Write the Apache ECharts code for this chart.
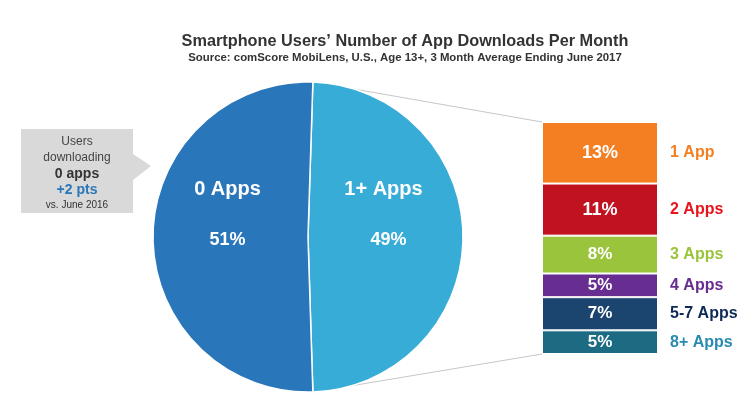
<!DOCTYPE html>
<html>
<head>
<meta charset="utf-8">
<script src="https://cdn.jsdelivr.net/npm/echarts@6/dist/echarts.min.js"></script>
<style>
  html, body { margin: 0; padding: 0; background: #fff; }
  #main { width: 746px; height: 399px; }
</style>
</head>
<body>
<div id="main"></div>
<script>
// pie: share of users by downloads
const pieNames = ["1+ Apps", "0 Apps"];
const pieValues = [49, 51];
const pieColors = ["#37acd6", "#2a76ba"];

// breakdown of the 1+ Apps slice
const appNames = ["1 App", "2 Apps", "3 Apps", "4 Apps", "5-7 Apps", "8+ Apps"];
const appValues = [13, 11, 8, 5, 7, 5];
const appColors = ["#f37f22", "#c1121f", "#99c43c", "#672d91", "#1b456e", "#1c6b83"];
const appLabelColors = ["#f37f22", "#e8141c", "#99c43c", "#672d91", "#0d2a55", "#2a8bb0"];

const FONT = "Liberation Sans, Arial, sans-serif";
const cx = 308, cy = 237, R = 155;
const gridLeft = 542, gridTop = 122, barW = 116, gridH = 232;

const chart = echarts.init(document.getElementById("main"));

const total = appValues.reduce((a, b) => a + b, 0);

const barSeries = appNames.map((name, i) => ({
  name: name,
  type: "bar",
  stack: "apps",
  barCategoryGap: 0,
  itemStyle: { color: appColors[i], borderColor: "#fff", borderWidth: 1 },
  data: [
    {
      value: appValues[i],
      label: {
        show: true,
        position: "inside",
        formatter: appValues[i] + "%",
        color: "#fff",
        fontFamily: FONT,
        fontWeight: "bold",
        fontSize: appValues[i] > 9 ? 18 : 17
      }
    },
    {
      value: appValues[i],
      itemStyle: { color: "transparent", borderWidth: 0 },
      label: {
        show: true,
        position: "insideLeft",
        distance: 12,
        formatter: name,
        color: appLabelColors[i],
        fontFamily: FONT,
        fontWeight: "bold",
        fontSize: 16
      }
    }
  ]
}));

const option = {
  animation: false,
  title: {
    text: "Smartphone Users\u2019 Number of App Downloads Per Month",
    subtext: "Source: comScore MobiLens, U.S., Age 13+, 3 Month Average Ending June 2017",
    left: 400,
    textAlign: "center",
    top: 29,
    itemGap: 2,
    textStyle: { fontFamily: FONT, fontSize: 16.3, fontWeight: "bold", color: "#333" },
    subtextStyle: { fontFamily: FONT, fontSize: 11.4, fontWeight: "bold", color: "#333" }
  },
  grid: { left: gridLeft, top: gridTop, width: barW * 2, height: gridH, outerBoundsMode: "none" },
  xAxis: { type: "category", data: ["bar", "names"], show: false },
  yAxis: { type: "value", min: 0, max: total, inverse: true, show: false },
  series: [
    {
      type: "pie",
      center: [cx, cy],
      radius: R,
      startAngle: 88.2,
      clockwise: true,
      silent: true,
      itemStyle: { borderColor: "#fff", borderWidth: 1.5 },
      label: {
        show: true,
        position: "inside",
        formatter: p => "{" + (p.dataIndex === 0 ? "m" : "n") + "|" + p.name + "}\n{v|" + p.value + "%}",
        rich: {
          n: { color: "#fff", fontFamily: FONT, fontWeight: "bold", fontSize: 20, lineHeight: 51 },
          m: { color: "#fff", fontFamily: FONT, fontWeight: "bold", fontSize: 20, lineHeight: 51, padding: [0, 10, 0, 0] },
          v: { color: "#fff", fontFamily: FONT, fontWeight: "bold", fontSize: 18, lineHeight: 51 }
        }
      },
      labelLayout: () => ({ dy: -22 }),
      data: pieNames.map((n, i) => ({ name: n, value: pieValues[i], itemStyle: { color: pieColors[i] } }))
    }
  ].concat(barSeries),
  graphic: [
    // connector lines from the 1+ slice to the breakdown bar
    { type: "line", shape: { x1: cx + 6, y1: cy - R, x2: gridLeft, y2: gridTop }, style: { stroke: "#c8c8c8", lineWidth: 1.2 } },
    { type: "line", shape: { x1: cx + 6, y1: cy + R, x2: gridLeft, y2: gridTop + gridH }, style: { stroke: "#c8c8c8", lineWidth: 1.2 } },
    // callout box
    {
      type: "polygon",
      shape: { points: [[21, 129], [133, 129], [133, 154], [151, 166], [133, 180], [133, 213], [21, 213]] },
      style: { fill: "#d9d9d9" }
    },
    {
      type: "text",
      x: 77,
      y: 134,
      style: {
        align: "center",
        text: "{a|Users}\n{a|downloading}\n{b|0 apps}\n{c|+2 pts}\n{d|vs. June 2016}",
        rich: {
          a: { fontFamily: FONT, fontSize: 12, fill: "#444", lineHeight: 16 },
          b: { fontFamily: FONT, fontSize: 14, fontWeight: "bold", fill: "#333", lineHeight: 16 },
          c: { fontFamily: FONT, fontSize: 14, fontWeight: "bold", fill: "#2a76ba", lineHeight: 16 },
          d: { fontFamily: FONT, fontSize: 10, fill: "#333", lineHeight: 15 }
        }
      }
    }
  ]
};

chart.setOption(option);
</script>
</body>
</html>
